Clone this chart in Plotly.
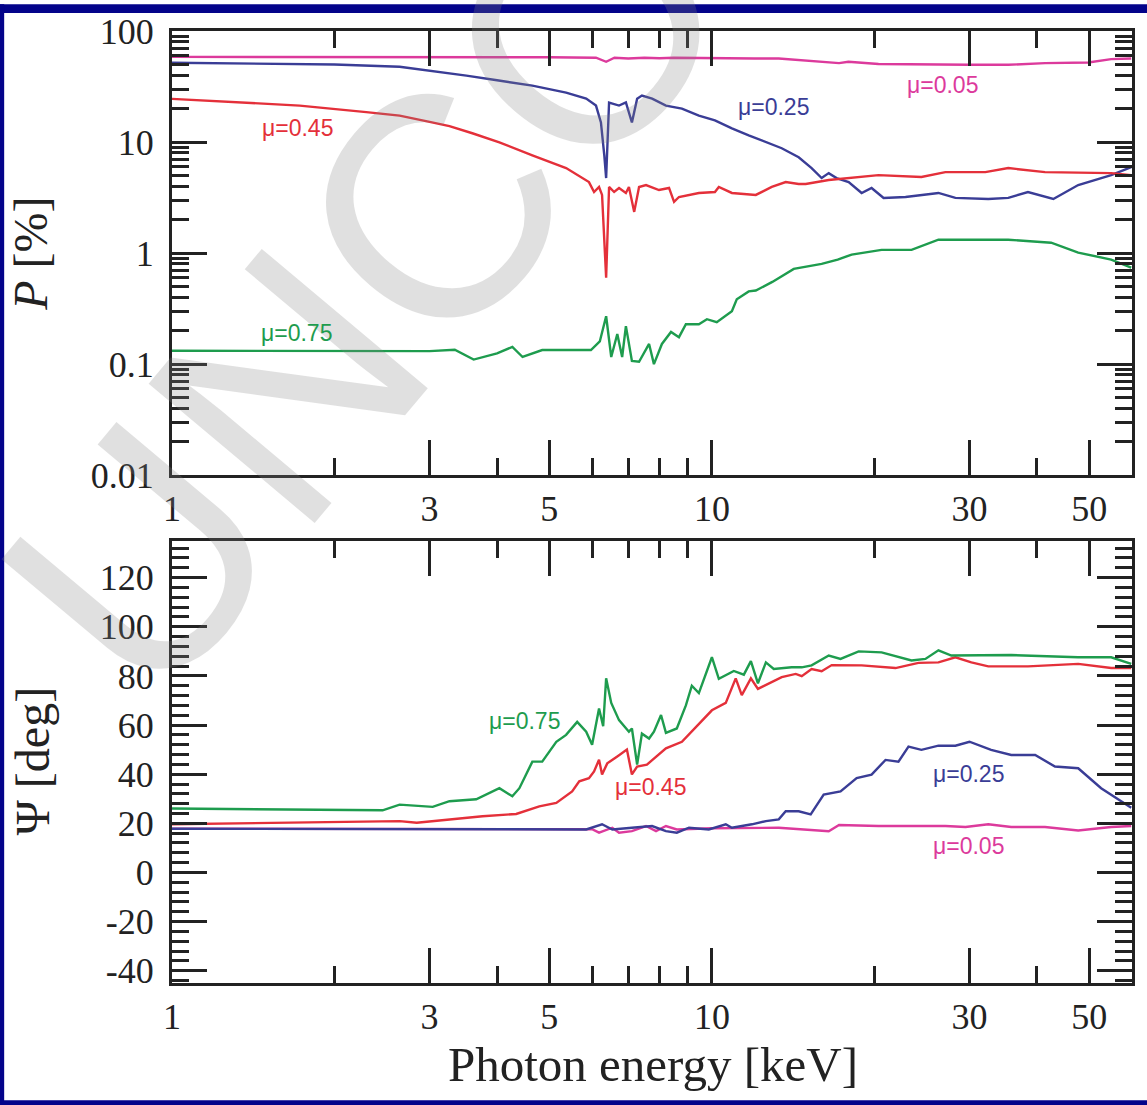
import math
import plotly.graph_objects as go

# ---------------- data: polarization degree P [%] ----------------
E_P_005 = [1.0, 2.0, 3.0, 5.0, 6.1, 6.37, 6.6, 7.0, 7.5, 8.0, 8.5, 9.5, 10.0, 12.0, 13.3, 15.3,
           17.2, 17.9, 20.35, 30.0, 35.4, 41.4, 49.8, 54.9, 59.8]
P_005 = [58.5, 58.5, 58.3, 58.0, 57.5, 52.8, 57.5, 56.5, 57.5, 56.8, 57.5, 57.0, 57.0, 56.5, 56.5, 53.9,
         51.4, 52.8, 50.4, 49.6, 49.6, 51.4, 52.0, 55.8, 56.5]

E_P_025 = [1.0, 1.5, 2.0, 2.64, 3.0, 3.51, 4.0, 4.65, 5.37, 5.85, 6.10, 6.23, 6.32, 6.37, 6.45, 6.73,
           6.93, 7.11, 7.27, 7.42, 7.75, 8.22, 8.80, 9.46, 10.13, 10.89, 11.70, 12.59, 13.47, 14.48,
           15.30, 15.97, 16.46, 17.02, 17.92, 18.94, 19.76, 20.80, 22.84, 26.28, 28.25, 32.5, 35.4,
           38.5, 42.9, 47.7, 54.9, 59.8]
P_025 = [51.7, 51.0, 50.0, 47.6, 44.0, 39.6, 36.0, 32.2, 27.9, 24.6, 21.3, 15.0, 7.6, 4.74, 22.7, 21.3,
         22.7, 15.0, 24.6, 26.2, 24.6, 21.3, 20.0, 17.3, 15.7, 13.3, 11.5, 10.0, 8.8, 7.3,
         5.83, 4.74, 5.25, 4.74, 4.36, 3.48, 3.86, 3.14, 3.20, 3.48, 3.14, 3.07, 3.14,
         3.55, 3.07, 4.10, 5.04, 5.94]

E_P_045 = [1.0, 1.297, 1.724, 2.29, 2.64, 3.0, 3.265, 3.6, 4.04, 4.65, 5.37, 5.92, 6.05, 6.18, 6.26,
           6.37, 6.45, 6.59, 6.73, 6.93, 7.02, 7.18, 7.33, 7.55, 7.98, 8.33, 8.51, 8.69, 9.46, 10.13,
           10.3, 10.89, 12.06, 12.91, 13.70, 14.48, 14.92, 16.46, 20.35, 24.44, 27.07, 32.1, 35.4,
           41.4, 54.9, 59.8]
P_045 = [24.5, 22.8, 21.3, 18.6, 17.3, 15.2, 13.9, 12.0, 9.95, 7.6, 5.83, 4.36, 3.55, 3.94, 3.34,
         0.60, 3.94, 3.55, 3.86, 3.48, 3.94, 2.35, 3.94, 4.10, 3.70, 3.86, 2.89, 3.20, 3.48, 3.55,
         3.94, 3.48, 3.34, 3.94, 4.36, 4.19, 4.19, 4.55, 5.04, 4.84, 5.36, 5.36, 5.83,
         5.36, 5.25, 5.04]

E_P_075 = [1.0, 2.0, 3.0, 3.34, 3.62, 4.0, 4.27, 4.46, 4.85, 5.44, 5.97, 6.2, 6.37, 6.51, 6.68, 6.82,
           6.93, 7.11, 7.33, 7.65, 7.81, 8.08, 8.40, 8.69, 8.95, 9.46, 9.79, 10.21, 10.89, 11.12,
           11.70, 12.06, 12.94, 14.18, 15.97, 17.10, 18.15, 20.62, 23.43, 26.28, 35.4, 42.5, 47.7,
           54.9, 59.8]
P_075 = [0.132, 0.131, 0.131, 0.135, 0.110, 0.125, 0.143, 0.116, 0.134, 0.134, 0.134, 0.16, 0.27,
         0.116, 0.187, 0.116, 0.220, 0.107, 0.105, 0.152, 0.100, 0.152, 0.195, 0.175, 0.229, 0.229,
         0.254, 0.239, 0.300, 0.384, 0.452, 0.46, 0.55, 0.72, 0.80, 0.875, 0.97, 1.07, 1.07, 1.32,
         1.32, 1.24, 1.01, 0.875, 0.74]

# ---------------- data: polarization angle Psi [deg] ----------------
E_A_005 = [1.0, 3.0, 5.0, 6.0, 6.18, 6.54, 6.73, 7.11, 7.55, 7.88, 8.22, 8.61, 10.0, 13.3, 16.46,
           17.2, 20.35, 27.07, 29.5, 32.5, 35.85, 41.4, 47.7, 54.9, 59.8]
A_005 = [17.8, 17.8, 17.7, 17.6, 16.2, 18.2, 16.2, 16.8, 18.9, 16.8, 18.9, 17.5, 18.0, 18.2, 16.8,
         19.3, 18.9, 18.9, 18.5, 19.6, 18.5, 18.5, 17.1, 18.5, 18.9]

E_A_025 = [1.0, 3.0, 5.0, 5.85, 6.26, 6.54, 7.11, 7.75, 8.22, 8.61, 9.07, 9.87, 10.61, 10.89, 11.86,
           12.59, 13.3, 13.7, 14.48, 15.24, 16.11, 17.31, 18.54, 19.76, 20.97, 22.16, 23.13, 24.44,
           26.28, 28.25, 30.0, 32.9, 35.85, 39.7, 43.2, 47.7, 52.6, 59.8]
A_025 = [17.8, 17.7, 17.6, 17.5, 19.6, 17.5, 18.2, 18.9, 16.8, 16.2, 18.2, 17.5, 19.6, 18.2, 19.6,
         20.9, 21.6, 24.9, 24.9, 23.6, 31.7, 33.0, 38.4, 39.8, 45.8, 45.1, 51.2, 49.9,
         51.6, 51.6, 53.2, 49.9, 47.8, 47.8, 43.1, 42.4, 34.3, 26.3]

E_A_045 = [1.0, 1.724, 2.64, 2.84, 3.265, 3.76, 4.34, 4.79, 5.15, 5.51, 5.68, 5.92, 6.05, 6.18, 6.26,
           6.40, 6.68, 6.96, 7.11, 7.27, 7.58, 8.22, 8.80, 9.46, 10.0, 10.61, 11.07, 11.36, 11.81,
           12.17, 12.59, 13.47, 14.30, 14.67, 15.30, 15.97, 16.67, 18.94, 21.88, 24.13, 26.28, 28.25,
           30.24, 32.5, 38.5, 47.7, 54.9, 59.8]
A_045 = [19.6, 20.3, 20.9, 20.2, 21.6, 22.9, 23.8, 26.9, 28.3, 33.0, 37.1, 38.4, 41.1, 45.9, 39.9,
         44.4, 47.2, 50.0, 39.9, 43.1, 43.9, 50.5, 53.2, 60.5, 66.0, 69.0, 79.0, 72.2, 79.0,
         74.7, 76.2, 79.5, 80.8, 79.9, 82.8, 81.9, 84.4, 84.3, 83.2, 85.3, 85.5, 87.6,
         85.5, 83.9, 83.9, 84.9, 83.2, 83.2]

E_A_075 = [1.0, 1.724, 2.455, 2.64, 3.04, 3.265, 3.66, 4.04, 4.27, 4.40, 4.65, 4.85, 5.15, 5.37, 5.63,
           5.85, 6.00, 6.18, 6.29, 6.37, 6.51, 6.73, 7.02, 7.11, 7.27, 7.42, 7.65, 7.81, 8.05, 8.22,
           8.61, 8.95, 9.18, 9.46, 10.0, 10.3, 10.98, 11.46, 11.81, 12.17, 12.59, 13.02, 14.05, 14.67,
           15.30, 16.46, 17.31, 18.70, 20.62, 23.43, 24.86, 26.28, 27.77, 35.85, 47.7, 54.9, 59.8]
A_075 = [26.0, 25.5, 25.3, 27.6, 26.7, 29.0, 29.8, 34.3, 31.0, 34.3, 45.1, 45.1, 53.2, 56.0, 61.3,
         57.3, 52.0, 66.7, 59.5, 79.0, 69.0, 62.0, 57.3, 58.6, 43.9, 56.5, 54.5, 57.3, 64.1, 56.8,
         58.6, 68.0, 76.0, 73.0, 87.6, 78.8, 82.0, 80.5, 86.0, 77.0, 85.5, 82.8, 83.5, 83.5,
         84.3, 88.3, 86.9, 90.0, 89.6, 86.3, 86.9, 90.4, 88.3, 88.5, 87.6, 87.6, 84.9]

# ---------------- labels ----------------
x_tickvals = [1, 3, 5, 10, 30, 50]
x_ticktext = ["1", "3", "5", "10", "30", "50"]
x_minor = [2, 4, 6, 7, 8, 9, 20, 40]
p_tickvals = [0.01, 0.1, 1, 10, 100]
p_ticktext = ["0.01", "0.1", "1", "10", "100"]
p_minor = [m * d for d in (0.01, 0.1, 1, 10) for m in range(2, 10)]
a_tickvals = [-40, -20, 0, 20, 40, 60, 80, 100, 120]
a_ticktext = ["-40", "-20", "0", "20", "40", "60", "80", "100", "120"]

series_labels = ["μ=0.05", "μ=0.25", "μ=0.45", "μ=0.75"]
# label anchor positions (energy, value)
top_label_pos = [(26.7, 32.9), (13.0, 20.9), (1.71, 13.3), (1.70, 0.19)]
bot_label_pos = [(29.9, 10.8), (29.9, 39.9), (7.71, 34.6), (4.49, 61.7)]

colors = ["#dc3a9c", "#3a3d96", "#e4303a", "#1e9c4e"]

W, H = 1147, 1105
ML, MR, MT, MB = 172, 14, 25, 122
PW = W - ML - MR
PH = H - MT - MB


def px2x(px):
    return (px - ML) / PW


def px2y(py):
    return (H - MB - py) / PH


fig = go.Figure()

top_sets = [(E_P_005, P_005), (E_P_025, P_025), (E_P_045, P_045), (E_P_075, P_075)]
bot_sets = [(E_A_005, A_005), (E_A_025, A_025), (E_A_045, A_045), (E_A_075, A_075)]

for (ex, ey), c, name in zip(top_sets, colors, series_labels):
    fig.add_trace(go.Scatter(x=ex, y=ey, mode="lines", line=dict(color=c, width=2.4),
                             xaxis="x", yaxis="y", name=name, showlegend=False))
for (ex, ey), c, name in zip(bot_sets, colors, series_labels):
    fig.add_trace(go.Scatter(x=ex, y=ey, mode="lines", line=dict(color=c, width=2.4),
                             xaxis="x2", yaxis="y2", name=name, showlegend=False))

tickfont = dict(family="Liberation Serif", size=36, color="#222")
axis_common = dict(showline=True, linecolor="#222", linewidth=3, mirror="ticks",
                   ticks="inside", ticklen=35, tickwidth=2.5, tickcolor="#222",
                   showgrid=False, zeroline=False, tickfont=tickfont)

xaxis_common = dict(axis_common, type="log", range=[0, math.log10(60)],
                    tickmode="array", tickvals=x_tickvals, ticktext=x_ticktext,
                    ticklabelstandoff=0,
                    minor=dict(tickmode="array", tickvals=x_minor, ticks="inside",
                               ticklen=17, tickwidth=2.5, tickcolor="#222", showgrid=False))

top_bottom = px2y(472)
bot_top = px2y(538)

fig.update_layout(
    width=W, height=H,
    margin=dict(l=ML, r=MR, t=MT, b=MB),
    paper_bgcolor="white", plot_bgcolor="rgba(0,0,0,0)",
    showlegend=False,
    xaxis=dict(xaxis_common, anchor="y", domain=[0, 1]),
    yaxis=dict(axis_common, type="log", range=[-2, 2], domain=[top_bottom, 1], anchor="x",
               tickmode="array", tickvals=p_tickvals, ticktext=p_ticktext, ticklabelstandoff=8,
               minor=dict(tickmode="array", tickvals=p_minor, ticks="inside", ticklen=17,
                          tickwidth=2.5, tickcolor="#222", showgrid=False)),
    xaxis2=dict(xaxis_common, anchor="y2", domain=[0, 1]),
    yaxis2=dict(axis_common, range=[-45, 135], domain=[0, bot_top], anchor="x2",
                tickmode="array", tickvals=a_tickvals, ticktext=a_ticktext, ticklabelstandoff=8,
                minor=dict(tickmode="linear", tick0=0, dtick=4, ticks="inside", ticklen=17,
                           tickwidth=2.5, tickcolor="#222", showgrid=False)),
)

annotations = []
# watermark
annotations.append(dict(text="UNCORRECTED PROOF", xref="paper", yref="paper",
                        x=px2x(1245), y=px2y(-765), xanchor="center", yanchor="middle",
                        showarrow=False, textangle=-50,
                        font=dict(family="Liberation Sans", size=315, color="rgba(130,130,130,0.25)")))

for (e, v), c, t in zip(top_label_pos, colors, series_labels):
    annotations.append(dict(text=t, x=math.log10(e), y=math.log10(v), xref="x", yref="y",
                            showarrow=False, font=dict(family="Liberation Sans", size=23, color=c)))
for (e, v), c, t in zip(bot_label_pos, colors, series_labels):
    annotations.append(dict(text=t, x=math.log10(e), y=v, xref="x2", yref="y2",
                            showarrow=False, font=dict(family="Liberation Sans", size=23, color=c)))

title_font = dict(family="Liberation Serif", size=49, color="#222")
ytitle_font = dict(family="Liberation Serif", size=48, color="#222")
annotations.append(dict(text="Photon energy [keV]", xref="paper", yref="paper",
                        x=px2x(654), y=px2y(1065), xanchor="center", yanchor="middle",
                        showarrow=False, font=title_font))
annotations.append(dict(text="<i>P</i> [%]", xref="paper", yref="paper",
                        x=px2x(30), y=px2y(249), xanchor="center", yanchor="middle",
                        showarrow=False, textangle=-90, font=ytitle_font))
annotations.append(dict(text="Ψ [deg]", xref="paper", yref="paper",
                        x=px2x(32), y=px2y(760), xanchor="center", yanchor="middle",
                        showarrow=False, textangle=-90, font=ytitle_font))
fig.update_layout(annotations=annotations)

navy = "#03038a"
shapes = [
    dict(type="rect", xref="paper", yref="paper", x0=px2x(-2), x1=px2x(W + 2), y0=px2y(-2), y1=px2y(7),
         fillcolor=navy, line=dict(width=0), layer="below"),
    dict(type="rect", xref="paper", yref="paper", x0=px2x(-2), x1=px2x(4), y0=px2y(-2), y1=px2y(H + 2),
         fillcolor=navy, line=dict(width=0), layer="below"),
    dict(type="rect", xref="paper", yref="paper", x0=px2x(-2), x1=px2x(W + 2), y0=px2y(1101), y1=px2y(H + 2),
         fillcolor=navy, line=dict(width=0), layer="below"),
]
fig.update_layout(shapes=shapes)

post = ("document.documentElement.style.margin='0';document.body.style.margin='0';"
        "document.body.style.padding='0';document.body.style.overflow='hidden';"
        "var d=document.getElementById('{plot_id}');d.style.position='absolute';"
        "d.style.left='0px';d.style.top='0px';")
fig.write_html("out.html", post_script=post, config={"displayModeBar": False})
